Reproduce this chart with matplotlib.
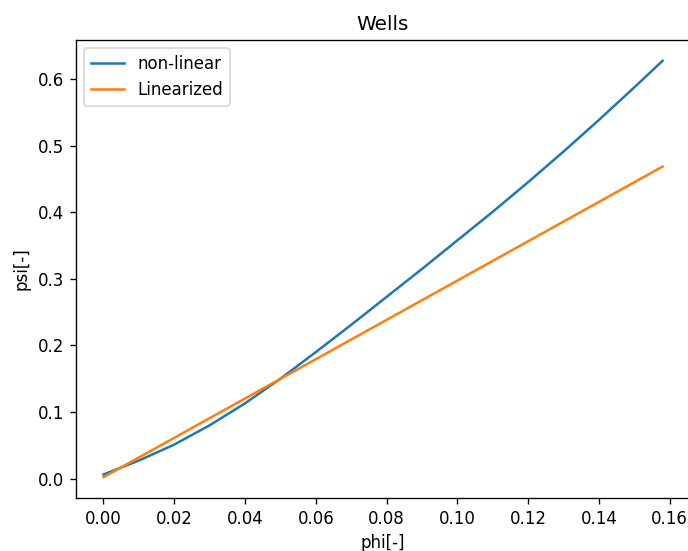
import matplotlib
matplotlib.use("Agg")
import matplotlib.pyplot as plt

phi_nl = [0.0, 0.01, 0.02, 0.03, 0.04, 0.05, 0.06, 0.07, 0.08, 0.09, 0.10, 0.11, 0.12, 0.13, 0.14, 0.15, 0.158]
psi_nl = [0.006, 0.027, 0.051, 0.080, 0.113, 0.150, 0.190, 0.231, 0.273, 0.315, 0.358, 0.401, 0.4455, 0.4915, 0.539, 0.588, 0.628]

phi_lin = [0.0, 0.158]
psi_lin = [0.002, 0.469]

DPI = 120
fig = plt.figure(figsize=(688/DPI, 551/DPI), dpi=DPI)
ax = fig.add_axes([75.5/688, (551-498)/551, (690.5-75.5)/688, (498-40)/551])
ax.plot(phi_nl, psi_nl, label="non-linear")
ax.plot(phi_lin, psi_lin, label="Linearized")
ax.set_title("Wells")
ax.set_xlabel("phi[-]")
ax.set_ylabel("psi[-]")
ax.legend(loc="upper left")
fig.savefig("out.png", dpi=DPI)
